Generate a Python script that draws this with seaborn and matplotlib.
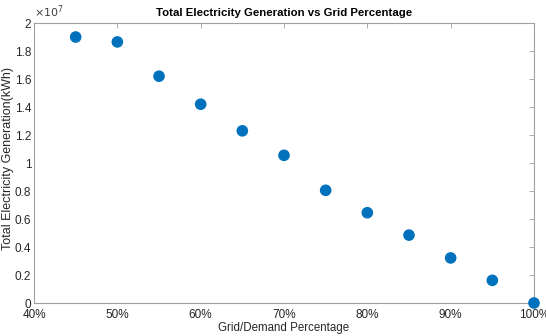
import matplotlib
matplotlib.use("Agg")
import matplotlib.pyplot as plt
import matplotlib.ticker as mticker
import seaborn as sns
import pandas as pd

grid_pct = [45, 50, 55, 60, 65, 70, 75, 80, 85, 90, 95, 100]
generation_kwh = [1.90e7, 1.865e7, 1.62e7, 1.42e7, 1.23e7, 1.055e7,
                  0.805e7, 0.645e7, 0.485e7, 0.322e7, 0.162e7, 0.0]
x_ticks = [40, 50, 60, 70, 80, 90, 100]
y_ticks = [0, 0.2e7, 0.4e7, 0.6e7, 0.8e7, 1.0e7, 1.2e7, 1.4e7, 1.6e7, 1.8e7, 2.0e7]

df = pd.DataFrame({"pct": grid_pct, "gen": generation_kwh})

sns.set_style("white")
plt.rcParams["font.family"] = ["Liberation Sans", "DejaVu Sans"]

fig = plt.figure(figsize=(5.46, 3.36), dpi=100)
ax = fig.add_axes([0.0623, 0.0982, 0.9157, 0.8333])

sns.scatterplot(data=df, x="pct", y="gen", ax=ax, color="#0072BD", s=70,
                edgecolor="none", linewidth=0, clip_on=False, zorder=3)

ax.set_xlim(40, 100)
ax.set_ylim(0, 2e7)
ax.set_xticks(x_ticks)
ax.xaxis.set_major_formatter(mticker.FuncFormatter(lambda v, p: f"{int(round(v))}%"))
ax.set_yticks(y_ticks)
ax.yaxis.set_major_formatter(mticker.FuncFormatter(lambda v, p: f"{v/1e7:g}"))
ax.text(0.0, 1.012, r"$\times10^{7}$", transform=ax.transAxes, fontsize=8,
        color="#404040", ha="left", va="bottom")

gray = "#a0a0a0"
for sp in ax.spines.values():
    sp.set_visible(True)
    sp.set_color(gray)
    sp.set_linewidth(0.8)
ax.tick_params(axis="both", direction="in", length=3.5, width=0.6, color=gray,
               labelsize=8.5, labelcolor="#262626", top=True, right=True, pad=2)
ax.tick_params(axis="x", pad=4)

ax.set_xlabel("Grid/Demand Percentage", fontsize=8.3, color="#262626", labelpad=1)
ax.set_ylabel("Total Electricity Generation(kWh)", fontsize=9, color="#262626")
ax.yaxis.label.set_va("center")
ax.yaxis.set_label_coords(-0.052, 0.515)
ax.set_title("Total Electricity Generation vs Grid Percentage", fontsize=8.2,
             fontweight="bold", color="black", pad=5)

fig.savefig("out.png", dpi=100)
